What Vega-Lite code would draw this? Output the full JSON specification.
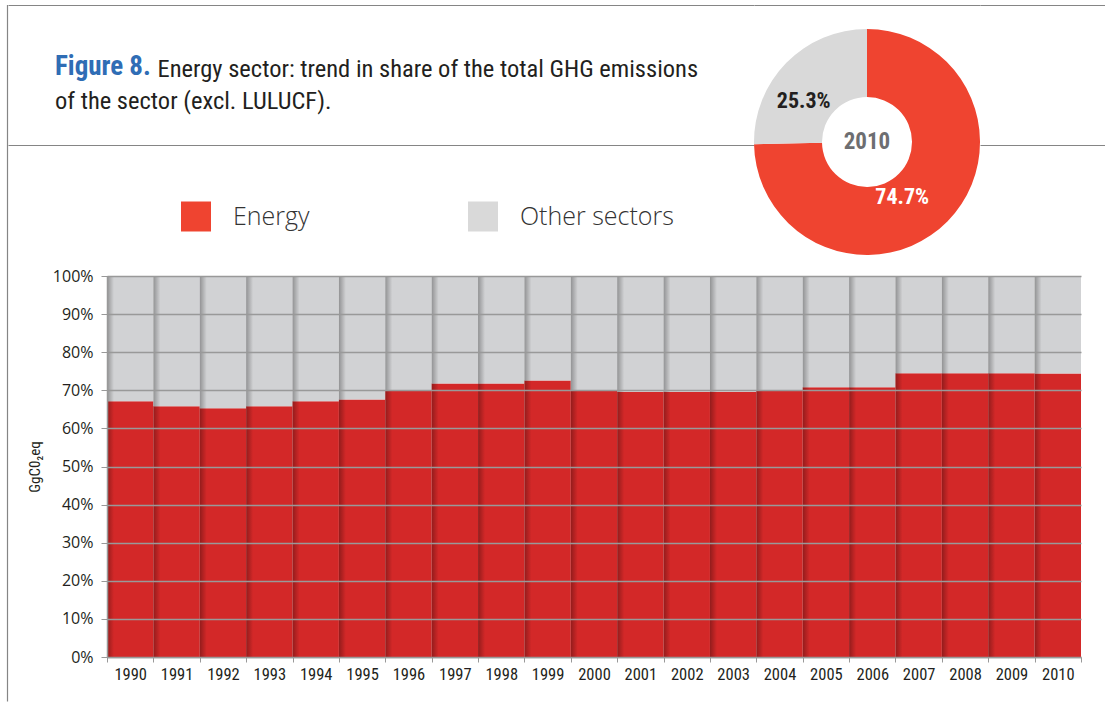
{
  "$schema": "https://vega.github.io/schema/vega-lite/v6.json",
  "padding": {"left": 7, "top": 5, "right": 0, "bottom": 0},
  "background": "white",
  "config": {
    "view": {"stroke": null},
    "axis": {"labelFont": "Open Sans", "titleFont": "Roboto Condensed"}
  },
  "title": {
    "text": "Energy sector: trend in share of the total GHG emissions",
    "anchor": "start",
    "frame": "group",
    "dx": 150.5,
    "offset": -96.5,
    "baseline": "alphabetic",
    "font": "Roboto Condensed",
    "fontSize": 24.5,
    "fontWeight": "normal",
    "color": "#231f20"
  },
  "spacing": 0,
  "resolve": {"scale": {"x": "independent", "y": "independent", "color": "independent"}, "axis": {"x": "independent", "y": "independent"}, "legend": {"color": "independent"}},
  "hconcat": [
    {
      "width": 1,
      "height": 672,
      "data": {"values": []},
      "mark": "point",
      "encoding": {
        "y": {"field": "s1", "type": "quantitative", "scale": {"domain": [0, 1], "range": [672, -24.5]},
              "axis": {"title": null, "labels": false, "ticks": false, "grid": false, "domainColor": "#858585", "domainWidth": 1.2}}
      }
    },
    {
      "spacing": 13,
      "resolve": {"scale": {"x": "independent", "y": "independent", "color": "independent"}, "axis": {"x": "independent", "y": "independent"}, "legend": {"color": "independent"}},
      "vconcat": [
        {
          "spacing": 0,
          "resolve": {"scale": {"x": "independent", "y": "independent", "color": "independent"}, "axis": {"x": "independent", "y": "independent"}, "legend": {"color": "independent"}},
          "hconcat": [
            {
              "width": 746,
              "height": 116,
              "data": {"values": []},
              "mark": {"type": "point", "filled": true, "shape": "square", "opacity": 1},
              "title": {
                "text": "Figure 8.",
                "subtitle": "of the sector (excl. LULUCF).",
                "anchor": "start",
                "frame": "group",
                "dx": 47,
                "offset": -130.5,
                "baseline": "alphabetic",
                "font": "Roboto Condensed",
                "fontSize": 27,
                "fontWeight": "bold",
                "color": "#2f6db5",
                "subtitleFont": "Roboto Condensed",
                "subtitleFontSize": 24.5,
                "subtitleFontWeight": "normal",
                "subtitleColor": "#231f20",
                "subtitlePadding": 7
              },
              "encoding": {
                "x": {"field": "a1", "type": "quantitative", "scale": {"domain": [0, 1]},
                      "axis": {"orient": "top", "offset": 24, "ticks": false, "labels": false, "grid": false, "title": null, "domainColor": "#858585", "domainWidth": 1.2}},
                "y": {"field": "b1", "type": "quantitative", "scale": {"domain": [0, 1]},
                      "axis": {"domain": false, "ticks": false, "labels": false, "title": null, "values": [0], "grid": true, "gridColor": "#858585", "gridWidth": 1.2, "gridOpacity": 1}},
                "color": {"field": "sector", "type": "nominal", "scale": {"domain": ["Energy", "Other sectors"], "range": ["#ef4430", "#d9d9d9"]},
                          "legend": {"orient": "none", "legendX": 173, "legendY": 172.5, "direction": "horizontal", "title": null, "padding": 0,
                                     "symbolType": "square", "symbolSize": 900, "symbolStrokeWidth": 0, "symbolOpacity": 1, "labelFont": "Open Sans", "labelFontSize": 25,
                                     "labelFontWeight": 300, "labelColor": "#333333", "labelOffset": 22, "columnPadding": 158}}
              }
            },
            {
              "width": 226,
              "height": 226,
              "layer": [
                {
                  "data": {"values": []},
                  "mark": "point",
                  "encoding": {
                    "x": {"field": "c1", "type": "quantitative", "scale": {"domain": [0, 1]},
                          "axis": {"orient": "top", "offset": 24, "ticks": false, "labels": false, "grid": false, "title": null, "domainColor": "#858585", "domainWidth": 1.2}}
                  }
                },
                {
                  "data": {"name": "pie"},
                  "mark": {"type": "arc", "outerRadius": 113, "innerRadius": 45},
                  "encoding": {
                    "theta": {"field": "share", "type": "quantitative", "stack": true},
                    "color": {"field": "sector", "type": "nominal", "scale": {"domain": ["Energy", "Other sectors"], "range": ["#ef4430", "#d9d9d9"]}, "legend": null},
                    "order": {"field": "sector", "sort": "ascending"}
                  }
                },
                {
                  "data": {"name": "pie"},
                  "mark": {"type": "text", "radius": 69, "dx": -14, "dy": 7, "font": "Roboto Condensed", "fontWeight": "bold", "fontSize": 22},
                  "encoding": {
                    "theta": {"field": "share", "type": "quantitative", "stack": true},
                    "text": {"field": "label"},
                    "color": {"field": "sector", "type": "nominal", "scale": {"domain": ["Energy", "Other sectors"], "range": ["#ffffff", "#231f20"]}, "legend": null},
                    "order": {"field": "sector", "sort": "ascending"}
                  }
                },
                {
                  "data": {"values": [{"label": "2010"}]},
                  "mark": {"type": "text", "font": "Roboto Condensed", "fontWeight": "bold", "fontSize": 23, "color": "#6d6e71"},
                  "encoding": {"text": {"field": "label"}}
                }
              ],
              "resolve": {"scale": {"color": "independent"}}
            },
            {
              "width": 125,
              "height": 116,
              "data": {"values": []},
              "mark": "point",
              "encoding": {
                "x": {"field": "d1", "type": "quantitative", "scale": {"domain": [0, 1]},
                      "axis": {"orient": "top", "offset": 24, "ticks": false, "labels": false, "grid": false, "title": null, "domainColor": "#858585", "domainWidth": 1.2}},
                "y": {"field": "e1", "type": "quantitative", "scale": {"domain": [0, 1]},
                      "axis": {"domain": false, "ticks": false, "labels": false, "title": null, "values": [0], "grid": true, "gridColor": "#858585", "gridWidth": 1.2, "gridOpacity": 1}}
              }
            }
          ]
        },
        {
          "spacing": 0,
          "resolve": {"scale": {"x": "independent", "y": "independent", "color": "independent"}, "axis": {"x": "independent", "y": "independent"}, "legend": {"color": "independent"}},
          "hconcat": [
            {"width": 19, "height": 10, "data": {"values": []}, "mark": "point"},
            {
              "width": 974,
              "height": 381,
              "data": {"name": "bars"},
              "layer": [
                {
                  "mark": {"type": "bar", "strokeWidth": 0},
                  "encoding": {
                    "x": {"field": "year", "type": "ordinal", "scale": {"paddingInner": 0, "paddingOuter": 0},
                          "axis": {"title": null, "labelAngle": 0, "tickBand": "extent", "tickSize": 5, "tickColor": "#999999", "domainColor": "#999999", "domainWidth": 1.5,
                                   "labelFont": "Roboto Condensed", "labelFontSize": 16.5, "labelColor": "#231f20", "labelPadding": 4}},
                    "y": {"field": "share", "type": "quantitative", "stack": "zero", "scale": {"domain": [0, 100]},
                          "axis": {"title": "GgC0₂eq", "titleFontSize": 15, "titleFontWeight": "normal", "titleColor": "#231f20", "titlePadding": 10,
                                   "values": [0, 10, 20, 30, 40, 50, 60, 70, 80, 90, 100], "labelExpr": "datum.value + '%'", "labelOverlap": false,
                                   "labelFontSize": 16, "labelColor": "#231f20", "labelPadding": 8, "tickSize": 6, "tickColor": "#999999",
                                   "domainColor": "#999999", "domainWidth": 1.5, "grid": true, "gridColor": "#999999", "gridWidth": 1.6, "gridOpacity": 1, "zindex": 1}},
                    "color": {"field": "sector", "type": "nominal", "scale": {"domain": ["Energy", "Other sectors"], "range": ["#d32828", "#d1d2d4"]}, "legend": null},
                    "order": {"field": "sector", "sort": "ascending"}
                  }
                },
                {
                  "mark": {"type": "bar", "strokeWidth": 0, "fill": {"gradient": "linear", "x1": 0, "x2": 1, "y1": 0, "y2": 0,
                           "stops": [{"offset": 0, "color": "rgba(0,0,0,0.3)"}, {"offset": 0.15, "color": "rgba(0,0,0,0)"}, {"offset": 1, "color": "rgba(0,0,0,0)"}]}},
                  "encoding": {
                    "x": {"field": "year", "type": "ordinal"},
                    "y": {"aggregate": "sum", "field": "share", "type": "quantitative",
                          "axis": {"title": "GgC0₂eq", "titleFontSize": 15, "titleFontWeight": "normal", "titleColor": "#231f20", "titlePadding": 10,
                                   "values": [0, 10, 20, 30, 40, 50, 60, 70, 80, 90, 100], "labelExpr": "datum.value + '%'", "labelOverlap": false,
                                   "labelFontSize": 16, "labelColor": "#231f20", "labelPadding": 8, "tickSize": 6, "tickColor": "#999999",
                                   "domainColor": "#999999", "domainWidth": 1.5, "grid": true, "gridColor": "#999999", "gridWidth": 1.6, "gridOpacity": 1, "zindex": 1}}
                  }
                }
              ]
            }
          ]
        }
      ]
    }
  ],
  "datasets": {
    "pie": [
      {"sector": "Energy", "share": 74.7, "label": "74.7%"},
      {"sector": "Other sectors", "share": 25.3, "label": "25.3%"}
    ],
    "bars": [
      {"year": "1990", "sector": "Energy", "share": 67.1}, {"year": "1990", "sector": "Other sectors", "share": 32.9},
      {"year": "1991", "sector": "Energy", "share": 65.8}, {"year": "1991", "sector": "Other sectors", "share": 34.2},
      {"year": "1992", "sector": "Energy", "share": 65.3}, {"year": "1992", "sector": "Other sectors", "share": 34.7},
      {"year": "1993", "sector": "Energy", "share": 65.8}, {"year": "1993", "sector": "Other sectors", "share": 34.2},
      {"year": "1994", "sector": "Energy", "share": 67.1}, {"year": "1994", "sector": "Other sectors", "share": 32.9},
      {"year": "1995", "sector": "Energy", "share": 67.6}, {"year": "1995", "sector": "Other sectors", "share": 32.4},
      {"year": "1996", "sector": "Energy", "share": 70.0}, {"year": "1996", "sector": "Other sectors", "share": 30.0},
      {"year": "1997", "sector": "Energy", "share": 71.8}, {"year": "1997", "sector": "Other sectors", "share": 28.2},
      {"year": "1998", "sector": "Energy", "share": 71.8}, {"year": "1998", "sector": "Other sectors", "share": 28.2},
      {"year": "1999", "sector": "Energy", "share": 72.6}, {"year": "1999", "sector": "Other sectors", "share": 27.4},
      {"year": "2000", "sector": "Energy", "share": 70.0}, {"year": "2000", "sector": "Other sectors", "share": 30.0},
      {"year": "2001", "sector": "Energy", "share": 69.6}, {"year": "2001", "sector": "Other sectors", "share": 30.4},
      {"year": "2002", "sector": "Energy", "share": 69.6}, {"year": "2002", "sector": "Other sectors", "share": 30.4},
      {"year": "2003", "sector": "Energy", "share": 69.6}, {"year": "2003", "sector": "Other sectors", "share": 30.4},
      {"year": "2004", "sector": "Energy", "share": 70.0}, {"year": "2004", "sector": "Other sectors", "share": 30.0},
      {"year": "2005", "sector": "Energy", "share": 70.8}, {"year": "2005", "sector": "Other sectors", "share": 29.2},
      {"year": "2006", "sector": "Energy", "share": 70.8}, {"year": "2006", "sector": "Other sectors", "share": 29.2},
      {"year": "2007", "sector": "Energy", "share": 74.5}, {"year": "2007", "sector": "Other sectors", "share": 25.5},
      {"year": "2008", "sector": "Energy", "share": 74.5}, {"year": "2008", "sector": "Other sectors", "share": 25.5},
      {"year": "2009", "sector": "Energy", "share": 74.5}, {"year": "2009", "sector": "Other sectors", "share": 25.5},
      {"year": "2010", "sector": "Energy", "share": 74.4}, {"year": "2010", "sector": "Other sectors", "share": 25.6}
    ]
  }
}
